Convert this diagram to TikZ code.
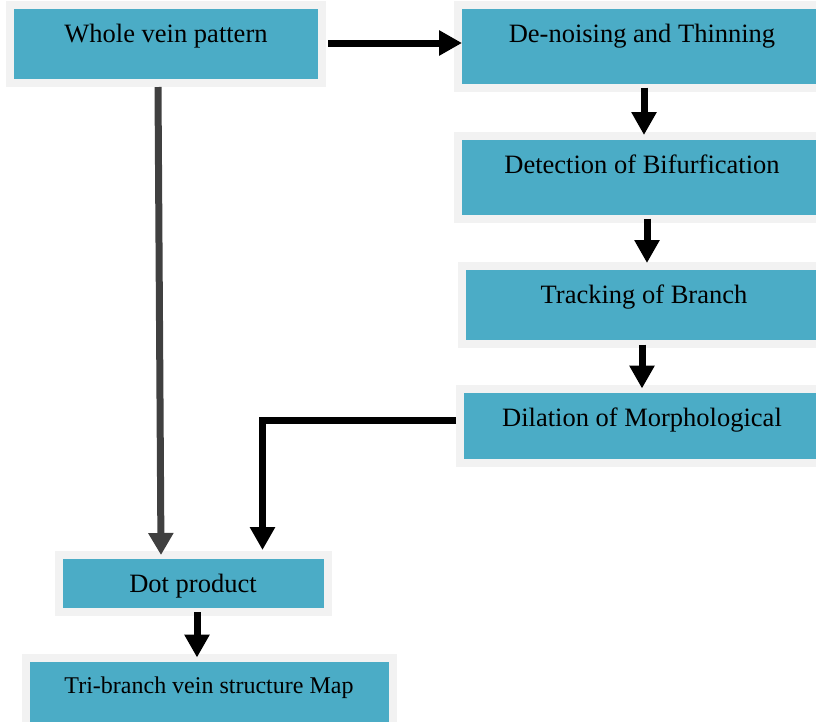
\documentclass[tikz,border=0pt]{standalone}
\usepackage{fontspec}
\setmainfont{Liberation Serif}
\usetikzlibrary{arrows.meta}
\definecolor{stepfill}{HTML}{4BACC6}
\definecolor{stepedge}{HTML}{F2F2F2}
\definecolor{darkarrow}{HTML}{404040}
\begin{document}
\begin{tikzpicture}[x=1pt,y=-1pt,
  stepbox/.style={draw=stepedge,line width=8pt,fill=stepfill,rectangle,
    inner sep=0pt,outer sep=0pt,anchor=north west},
  steptext/.style={anchor=base,inner sep=0pt,text=black,
    font=\rmfamily\fontsize{26.5}{30}\selectfont},
  flow/.style={line width=7pt,-{Triangle[length=23pt,width=24pt]}},
  elbow/.style={flow,line join=miter},
]
\useasboundingbox (0,0) rectangle (816,721);
\clip (0,0) rectangle (816,721);

% process boxes
\node[stepbox,minimum width=312pt,minimum height=78pt]   (n1) at (10,5) {};
\node[stepbox,minimum width=380pt,minimum height=82.5pt] (n2) at (458,5) {};
\node[stepbox,minimum width=380pt,minimum height=82.5pt] (n3) at (458,136) {};
\node[stepbox,minimum width=380pt,minimum height=77.5pt] (n4) at (462,266) {};
\node[stepbox,minimum width=380pt,minimum height=74pt]   (n5) at (460,388.5) {};
\node[stepbox,minimum width=269pt,minimum height=57pt]   (n6) at (58.5,555) {};
\node[stepbox,minimum width=366.5pt,minimum height=90pt] (n7) at (26,657.5) {};

% labels
\node[steptext] (t1) at (166,42.5) {Whole vein pattern};
\node[steptext] (t2) at (642,42) {De-noising and Thinning};
\node[steptext] (t3) at (642,173) {Detection of Bifurfication};
\node[steptext] (t4) at (644,303) {Tracking of Branch};
\node[steptext] (t5) at (642,426) {Dilation of Morphological};
\node[steptext] (t6) at (193,592) {Dot product};
\node[steptext,font=\rmfamily\fontsize{24}{28}\selectfont] (t7) at (209,693) {Tri-branch vein structure Map};

% connectors
\coordinate (a1) at (328,43);
\draw[flow] (a1) -- ([xshift=4pt]a1 -| n2.west);
\draw[flow] (n2.south -| 644,0) -- ([yshift=1pt]n3.north -| 644,0);
\draw[flow] (n3.south -| 647,0) -- ([yshift=3pt]n4.north -| 647,0);
\draw[flow] ([yshift=-1pt]n4.south -| 642,0) -- (n5.north -| 642,0);
\coordinate (c5) at (456,420);
\draw[elbow] (c5) -| ([yshift=5pt]n6.north -| 262.5,0);
\draw[flow,darkarrow,-{Triangle[length=22pt,width=24pt]}] (158,87) -- (n6.north -| 161,0);
\draw[flow] (n6.south -| 197,0) -- (n7.north -| 197,0);
\end{tikzpicture}
\end{document}
